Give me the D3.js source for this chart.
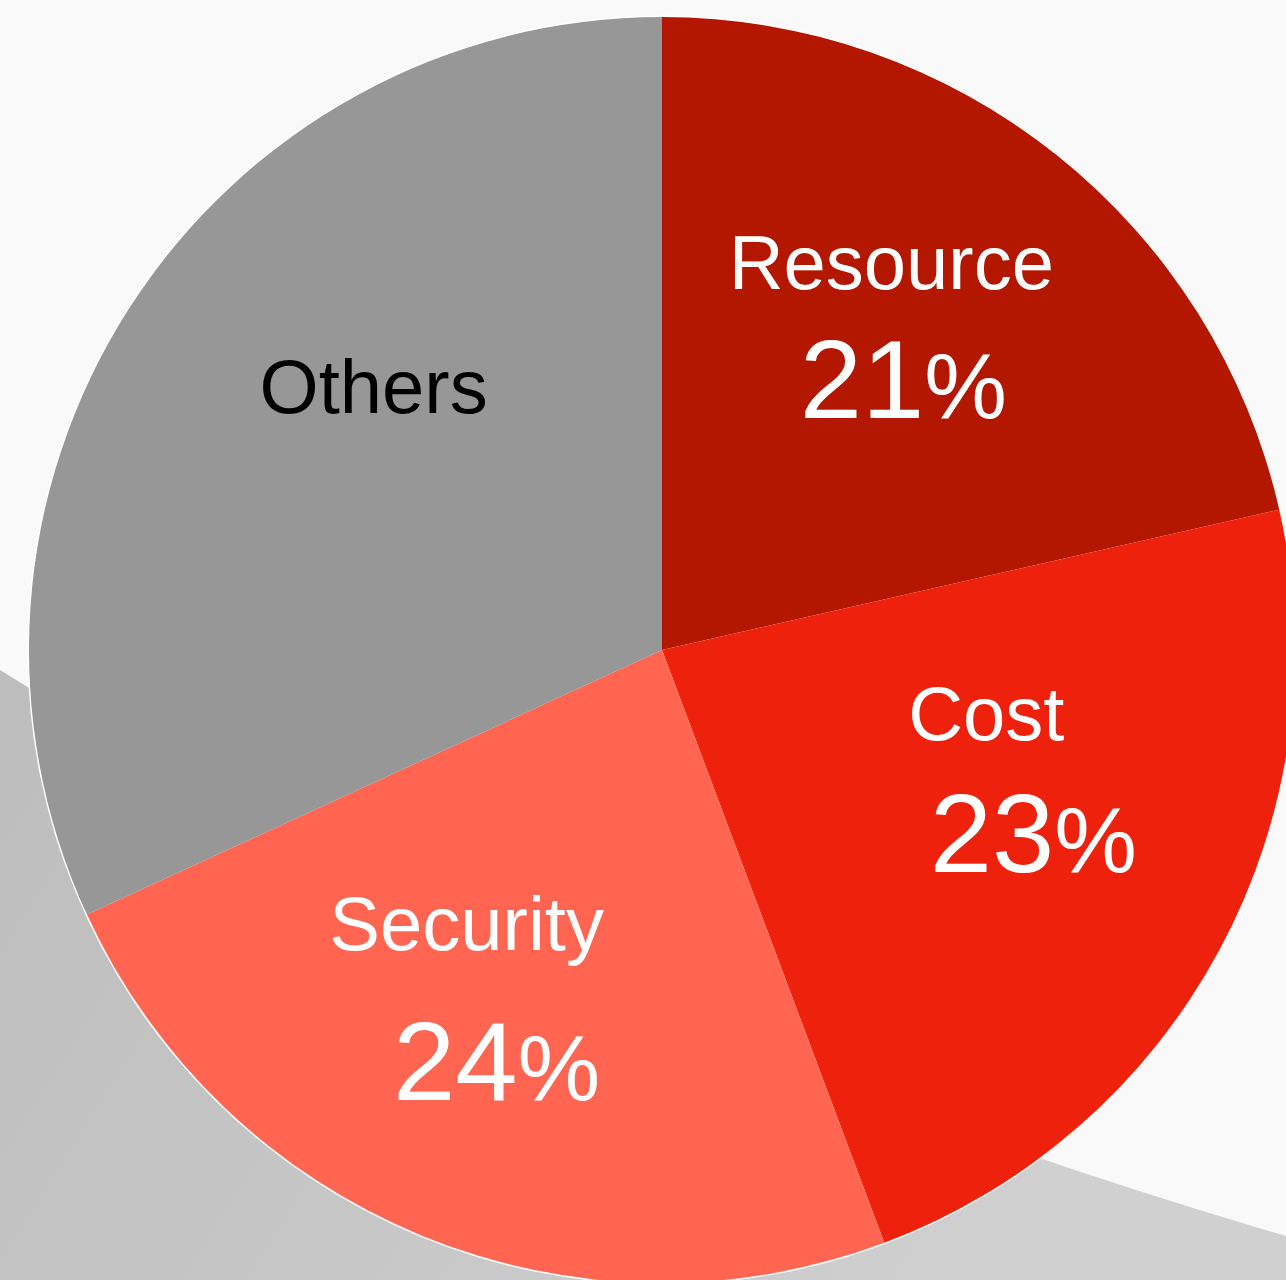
<!DOCTYPE html>
<html><head><meta charset="utf-8">
<script src="https://cdn.jsdelivr.net/npm/d3@7"></script>
<style>html,body{margin:0;padding:0;background:#f9f9f9;overflow:hidden}</style>
</head><body>
<svg id="chart" width="1286" height="1280"></svg>
<script>
const categories = ["Resource", "Cost", "Security", "Others"];
const values = [21.4, 22.8, 23.8, 31.8];
const showValue = [true, true, true, false];
const colors = ["#B41700", "#EE220C", "#FF6550", "#979797"];
const textColors = ["#ffffff", "#ffffff", "#ffffff", "#000000"];
// label placement tweaks relative to arc centroid: [nameDx, nameDy, valueDx, valueDy]
const labelOffsets = [[-14, -56, -2, 73], [-19, -95, 28, 37], [-47, -61, -17, 89], [40, -27, 0, 0]];

const W = 1286, H = 1280, cx = 662, cy = 650, R = 633;
const svg = d3.select("#chart");

// background
const defs = svg.append("defs");
const g1 = defs.append("linearGradient").attr("id", "bgGray").attr("x1", "0").attr("y1", "0").attr("x2", "1").attr("y2", "0.3");
g1.append("stop").attr("offset", "0").attr("stop-color", "#bdbdbd");
g1.append("stop").attr("offset", "1").attr("stop-color", "#d0d0d0");
svg.append("rect").attr("width", W).attr("height", H).attr("fill", "#f9f9f9");
const bgPath = d3.path();
bgPath.moveTo(0, 670);
bgPath.quadraticCurveTo(582, 1031, W, 1236);
bgPath.lineTo(W, H); bgPath.lineTo(0, H); bgPath.closePath();
svg.append("path").attr("d", bgPath.toString()).attr("fill", "url(#bgGray)");

const total = d3.sum(values);
const pie = d3.pie().sort(null).value(d => d);
const arcs = pie(values);
const arc = d3.arc().innerRadius(0).outerRadius(R);
const labelArc = d3.arc().innerRadius(390).outerRadius(390);

const g = svg.append("g").attr("transform", `translate(${cx},${cy})`);
g.append("circle").attr("r", R + 1.5).attr("fill", "#ffffff");
g.selectAll("path.slice").data(arcs).join("path")
  .attr("class", "slice")
  .attr("d", arc)
  .attr("fill", (d, i) => colors[i]);

const font = "'Liberation Sans', Arial, Helvetica, sans-serif";
arcs.forEach((d, i) => {
  const [x, y] = labelArc.centroid(d);
  const off = labelOffsets[i];
  g.append("text")
    .attr("x", x + off[0]).attr("y", y + off[1])
    .attr("text-anchor", "middle")
    .attr("font-family", font).attr("font-size", 76)
    .attr("fill", textColors[i])
    .text(categories[i]);
  if (showValue[i]) {
    const t = g.append("text")
      .attr("x", x + off[2]).attr("y", y + off[3])
      .attr("text-anchor", "middle")
      .attr("font-family", font)
      .attr("fill", textColors[i]);
    t.append("tspan").attr("font-size", 112).text(Math.round(d.data / total * 100));
    t.append("tspan").attr("font-size", 93).text("%");
  }
});
</script>
</body></html>
